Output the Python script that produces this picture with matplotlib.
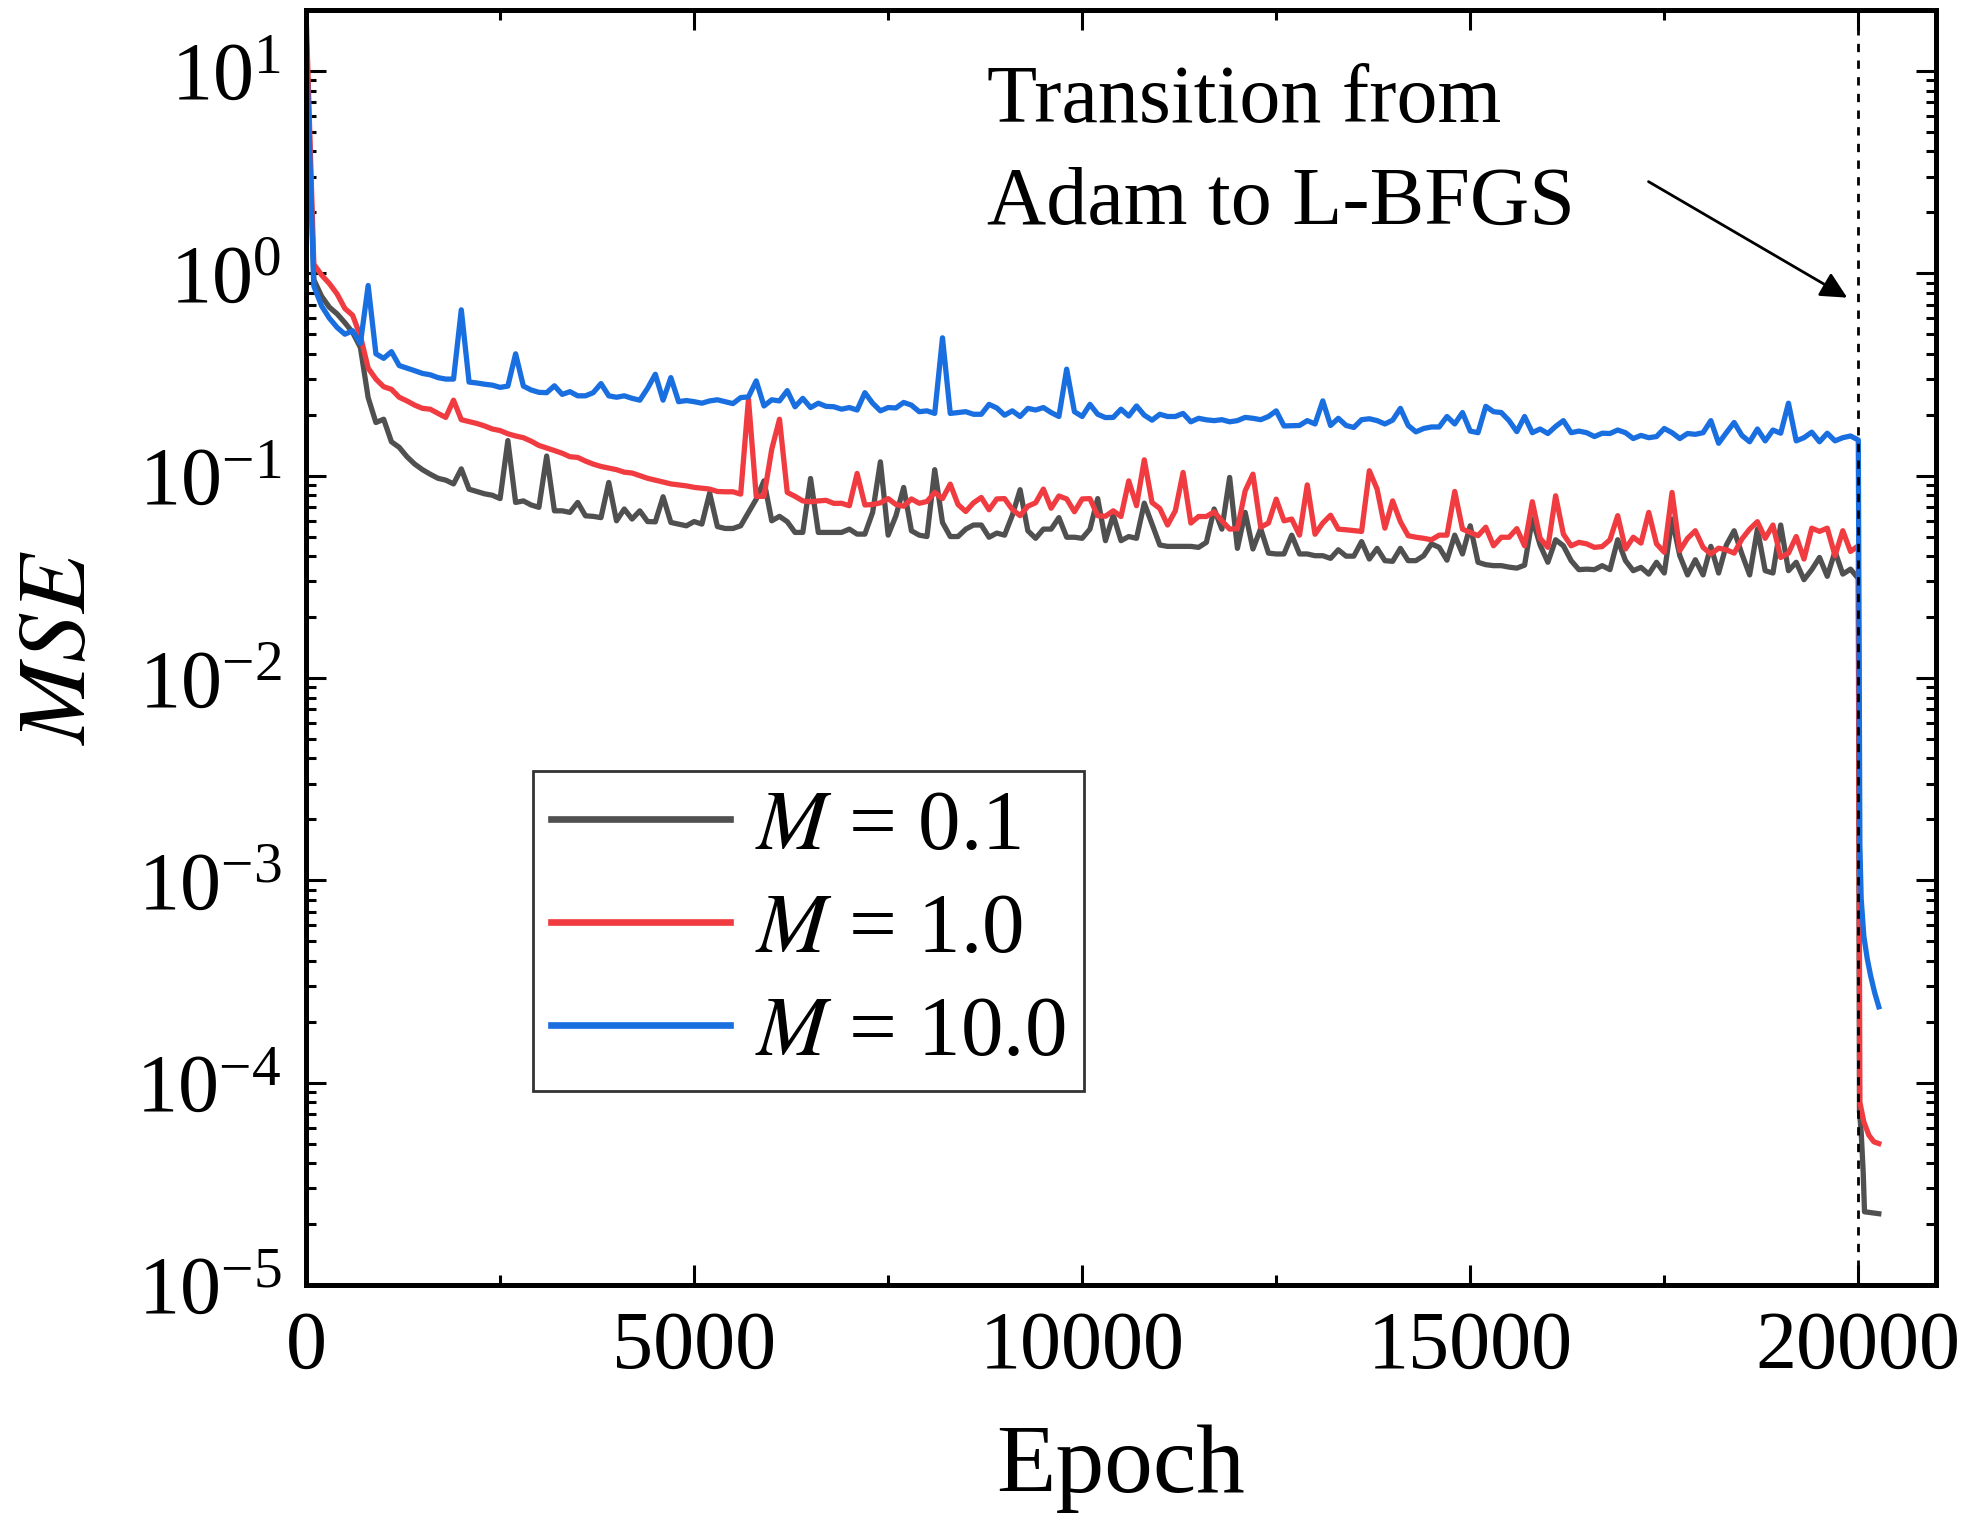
import numpy as np
import matplotlib
matplotlib.use("Agg")
import matplotlib.pyplot as plt
from matplotlib.ticker import MultipleLocator, LogLocator, NullFormatter

plt.rcParams['font.family'] = ['Liberation Serif', 'DejaVu Serif']
plt.rcParams['mathtext.fontset'] = 'stix'

# Adam stage, logged every 100 epochs (0 .. 20000)
epochs = np.arange(0, 20001, 100)

mse_m01 = [
    16, 0.93, 0.77, 0.68, 0.63, 0.57, 0.51, 0.43, 0.243, 0.183,
    0.19, 0.147, 0.138, 0.124, 0.114, 0.107, 0.1016, 0.097, 0.095, 0.091,
    0.108, 0.0857, 0.0835, 0.0813, 0.080, 0.077, 0.149, 0.0737, 0.075, 0.0716,
    0.0697, 0.125, 0.067, 0.067, 0.0658, 0.0737, 0.0633, 0.0629, 0.062, 0.0925,
    0.0598, 0.0684, 0.061, 0.067, 0.0593, 0.0591, 0.0786, 0.0587, 0.0576, 0.0565,
    0.0593, 0.0576, 0.082, 0.0560, 0.0548, 0.0548, 0.0565, 0.0658, 0.0765, 0.0942,
    0.0598, 0.0629, 0.0592, 0.0524, 0.0524, 0.0968, 0.0524, 0.0524, 0.0524, 0.0524,
    0.0544, 0.0514, 0.0514, 0.0658, 0.117, 0.0508, 0.0633, 0.0874, 0.0534, 0.0508,
    0.050, 0.107, 0.0587, 0.050, 0.050, 0.0544, 0.057, 0.057, 0.0496, 0.052,
    0.0508, 0.0637, 0.0852, 0.0534, 0.049, 0.0544, 0.0544, 0.062, 0.0496, 0.0496,
    0.049, 0.0544, 0.077, 0.0477, 0.0638, 0.0477, 0.050, 0.049, 0.0731, 0.0576,
    0.0454, 0.0447, 0.0447, 0.0447, 0.0447, 0.0442, 0.0468, 0.0684, 0.0544, 0.098,
    0.0437, 0.0658, 0.0434, 0.0547, 0.0414, 0.041, 0.041, 0.0508, 0.041, 0.041,
    0.0402, 0.0402, 0.039, 0.043, 0.040, 0.040, 0.0472, 0.0387, 0.0437, 0.038,
    0.0377, 0.0437, 0.038, 0.038, 0.0402, 0.046, 0.0442, 0.0382, 0.0508, 0.041,
    0.0565, 0.0373, 0.0363, 0.0359, 0.0359, 0.0353, 0.0349, 0.0361, 0.061, 0.0454,
    0.0373, 0.0482, 0.045, 0.038, 0.0343, 0.0345, 0.0343, 0.0359, 0.0343, 0.0482,
    0.038, 0.0339, 0.0352, 0.0326, 0.0373, 0.033, 0.061, 0.0402, 0.0323, 0.0384,
    0.0323, 0.0447, 0.033, 0.0454, 0.0534, 0.041, 0.0323, 0.0544, 0.0339, 0.033,
    0.057, 0.0339, 0.0373, 0.0306, 0.0343, 0.0394, 0.0318, 0.0422, 0.0326, 0.0345,
    0.031,
]

mse_m1 = [
    19.5, 1.11, 0.98, 0.89, 0.79, 0.67, 0.62, 0.49, 0.34, 0.30,
    0.275, 0.267, 0.244, 0.234, 0.223, 0.215, 0.213, 0.203, 0.194, 0.236,
    0.189, 0.185, 0.181, 0.176, 0.170, 0.167, 0.161, 0.157, 0.154, 0.148,
    0.141, 0.137, 0.133, 0.129, 0.124, 0.123, 0.118, 0.114, 0.111, 0.109,
    0.107, 0.104, 0.103, 0.100, 0.097, 0.095, 0.093, 0.091, 0.090, 0.089,
    0.0875, 0.0866, 0.0858, 0.0835, 0.0832, 0.0832, 0.081, 0.239, 0.079, 0.079,
    0.135, 0.19, 0.0826, 0.079, 0.075, 0.0743, 0.075, 0.0755, 0.0729, 0.073,
    0.071, 0.1025, 0.0716, 0.072, 0.0734, 0.077, 0.072, 0.0706, 0.0767, 0.073,
    0.0745, 0.0826, 0.077, 0.0908, 0.072, 0.0665, 0.0734, 0.078, 0.0678, 0.0767,
    0.077, 0.068, 0.0634, 0.0706, 0.0734, 0.0858, 0.069, 0.0793, 0.0767, 0.0663,
    0.0767, 0.077, 0.0634, 0.063, 0.067, 0.0628, 0.0942, 0.071, 0.1197, 0.0736,
    0.0688, 0.057, 0.067, 0.1037, 0.0583, 0.0628, 0.0628, 0.0662, 0.0598, 0.0544,
    0.0547, 0.0841, 0.1017, 0.0556, 0.0583, 0.0765, 0.0598, 0.061, 0.0508, 0.090,
    0.0513, 0.0583, 0.0637, 0.0544, 0.054, 0.0535, 0.053, 0.1057, 0.0857, 0.055,
    0.075, 0.0592, 0.0505, 0.0496, 0.049, 0.0482, 0.0508, 0.0508, 0.0835, 0.0544,
    0.0524, 0.0505, 0.0556, 0.045, 0.0496, 0.0496, 0.0547, 0.045, 0.0743, 0.049,
    0.0442, 0.0795, 0.0514, 0.045, 0.0468, 0.046, 0.0442, 0.0446, 0.0482, 0.0634,
    0.0434, 0.0496, 0.0464, 0.0658, 0.046, 0.0418, 0.0826, 0.0426, 0.049, 0.0534,
    0.0442, 0.041, 0.0438, 0.043, 0.0414, 0.0486, 0.0544, 0.0592, 0.049, 0.057,
    0.0394, 0.0414, 0.050, 0.0387, 0.055, 0.053, 0.055, 0.0402, 0.0534, 0.0422,
    0.045,
]

mse_m10 = [
    15, 0.865, 0.69, 0.60, 0.54, 0.50, 0.52, 0.45, 0.87, 0.40,
    0.38, 0.41, 0.35, 0.34, 0.33, 0.32, 0.315, 0.305, 0.30, 0.30,
    0.66, 0.29, 0.287, 0.283, 0.28, 0.273, 0.277, 0.40, 0.277, 0.265,
    0.258, 0.257, 0.278, 0.252, 0.26, 0.248, 0.248, 0.257, 0.285, 0.248,
    0.244, 0.248, 0.241, 0.236, 0.27, 0.317, 0.236, 0.305, 0.232, 0.235,
    0.232, 0.228, 0.234, 0.237, 0.232, 0.227, 0.243, 0.245, 0.294, 0.221,
    0.237, 0.234, 0.263, 0.219, 0.241, 0.217, 0.228, 0.22, 0.219, 0.213,
    0.217, 0.211, 0.257, 0.228, 0.209, 0.217, 0.216, 0.23, 0.223, 0.207,
    0.209, 0.203, 0.48, 0.203, 0.205, 0.207, 0.201, 0.201, 0.225, 0.216,
    0.199, 0.209, 0.196, 0.215, 0.211, 0.217, 0.205, 0.196, 0.336, 0.207,
    0.196, 0.225, 0.201, 0.1936, 0.194, 0.213, 0.197, 0.221, 0.199, 0.188,
    0.201, 0.196, 0.196, 0.203, 0.1845, 0.192, 0.1887, 0.187, 0.189, 0.1845,
    0.187, 0.194, 0.192, 0.189, 0.196, 0.209, 0.176, 0.1765, 0.177, 0.187,
    0.18, 0.234, 0.177, 0.192, 0.177, 0.173, 0.189, 0.191, 0.187, 0.18,
    0.188, 0.215, 0.177, 0.1645, 0.171, 0.174, 0.174, 0.196, 0.18, 0.205,
    0.166, 0.163, 0.22, 0.207, 0.205, 0.187, 0.165, 0.196, 0.163, 0.17,
    0.1615, 0.175, 0.187, 0.163, 0.166, 0.163, 0.156, 0.162, 0.1615, 0.168,
    0.163, 0.1525, 0.158, 0.154, 0.156, 0.171, 0.163, 0.1525, 0.1615, 0.16,
    0.163, 0.187, 0.1445, 0.163, 0.183, 0.158, 0.147, 0.17, 0.1485, 0.168,
    0.162, 0.228, 0.1485, 0.154, 0.164, 0.147, 0.162, 0.1485, 0.154, 0.157,
    0.150,
]

# L-BFGS stage after epoch 20000
tail_ep_m01 = [20015, 20037, 20063, 20080, 20264]
tail_m01 = [7.2e-5, 5.7e-5, 3.6e-5, 2.3e-5, 2.25e-5]
tail_ep_m1 = [20020, 20071, 20136, 20200, 20264]
tail_m1 = [8.0e-5, 6.4e-5, 5.5e-5, 5.1e-5, 5.0e-5]
tail_ep_m10 = [20020, 20037, 20071, 20115, 20157, 20209, 20264]
tail_m10 = [1.5e-3, 8.1e-4, 5.3e-4, 4.1e-4, 3.4e-4, 2.8e-4, 2.37e-4]

labels = ['$M$ = 0.1', '$M$ = 1.0', '$M$ = 10.0']
colors = ['#505050', '#f03c40', '#1a6fe0']

fig = plt.figure(figsize=(9.835, 7.615), dpi=200)
ax = fig.add_axes([0.1556, 0.1563, 0.8286, 0.8371])

series = [(mse_m01, tail_ep_m01, tail_m01),
          (mse_m1, tail_ep_m1, tail_m1),
          (mse_m10, tail_ep_m10, tail_m10)]
for (adam, tep, tval), lab, col in zip(series, labels, colors):
    x = np.concatenate([epochs, tep])
    y = np.concatenate([adam, tval])
    ax.plot(x, y, color=col, lw=1.9, label=lab)

ax.axvline(20000, color='k', lw=1.0, ls=(0, (3, 3)), zorder=5)

ax.set_yscale('log')
ax.set_xlim(0, 21000)
ax.set_ylim(1e-5, 20)

ax.xaxis.set_major_locator(MultipleLocator(5000))
ax.xaxis.set_minor_locator(MultipleLocator(2500))
ax.yaxis.set_major_locator(LogLocator(base=10, numticks=20))
ax.yaxis.set_minor_locator(LogLocator(base=10, subs=np.arange(2, 10), numticks=20))
ax.yaxis.set_minor_formatter(NullFormatter())

ax.tick_params(which='both', direction='in', top=True, right=True, labelsize=29.5)
ax.tick_params(which='major', length=7.2, width=1.1)
ax.tick_params(which='minor', length=3.6, width=1.1)
ax.tick_params(axis='x', which='major', pad=9)
ax.tick_params(axis='y', which='major', pad=9)
for sp in ax.spines.values():
    sp.set_linewidth(1.8)

ax.set_xlabel('Epoch', fontsize=35, labelpad=14)
ax.set_ylabel('$MSE$', fontsize=35, labelpad=11)

ax.text(0.418, 0.957, 'Transition from\nAdam to L-BFGS', transform=ax.transAxes,
        fontsize=29.5, ha='left', va='top', linespacing=1.45)
ax.annotate('', xy=(19919, 0.734), xytext=(17235, 2.93),
            arrowprops=dict(arrowstyle='-|>', lw=1.0, color='k', mutation_scale=20))

leg = ax.legend(loc='upper left', bbox_to_anchor=(0.139, 0.4035), borderaxespad=0,
                fontsize=30.6, frameon=True, fancybox=False, edgecolor='k',
                handlelength=2.1, handletextpad=0.3, labelspacing=0.3, borderpad=0.22)
leg.get_frame().set_linewidth(1.0)
for ln in leg.get_lines():
    ln.set_linewidth(2.4)

fig.savefig('out.png', dpi=200)
